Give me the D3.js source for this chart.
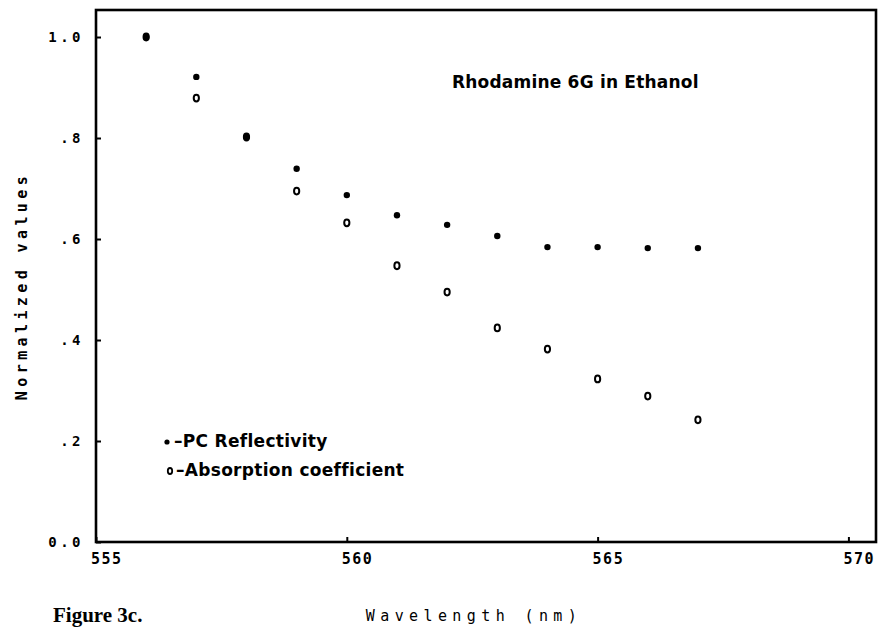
<!DOCTYPE html>
<html>
<head>
<meta charset="utf-8">
<script src="https://cdn.jsdelivr.net/npm/d3@7"></script>
<style>
body { margin: 0; background: #fff; }
svg { display: block; }
</style>
</head>
<body>
<svg width="878" height="632"></svg>
<script>
var svg = d3.select("svg");

// wavelengths (nm)
var wavelengths = [556, 557, 558, 559, 560, 561, 562, 563, 564, 565, 566, 567];
// PC reflectivity (filled dots)
var reflectivity = [1.0, 0.921, 0.802, 0.739, 0.687, 0.647, 0.628, 0.606, 0.584, 0.584, 0.582, 0.582];
// absorption coefficient (open circles)
var absorption = [1.0, 0.879, 0.802, 0.695, 0.632, 0.547, 0.495, 0.424, 0.382, 0.323, 0.289, 0.242];

var xTicks = [555, 560, 565, 570];
var yTicks = [0, 0.2, 0.4, 0.6, 0.8, 1.0];
var yTickLabels = ["0.0", ".2", ".4", ".6", ".8", "1.0"];

var x = d3.scaleLinear().domain([555, 570.55]).range([96, 876]);
var y = d3.scaleLinear().domain([0, 1.0535]).range([542, 10]);

var mono = "'DejaVu Sans Mono', 'Liberation Mono', monospace";
var sans = "'DejaVu Sans', 'Noto Sans', sans-serif";

// frame
svg.append("rect")
	.attr("x", x(555))
	.attr("y", y(1.0535))
	.attr("width", x(570.55) - x(555))
	.attr("height", y(0) - y(1.0535))
	.style("fill", "none")
	.style("stroke", "#000")
	.style("stroke-width", 2.6);

// y axis ticks (inward)
var yAxis = d3.axisRight(y).tickValues(yTicks).tickSize(5).tickFormat("");
svg.append("g")
	.attr("transform", "translate(" + x(555) + ",0)")
	.call(yAxis)
	.call(function(g){ g.select(".domain").remove(); })
	.selectAll("line").style("stroke-width", 2);

svg.append("g").selectAll("text")
	.data(yTicks)
	.enter().append("text")
	.attr("x", 84)
	.attr("y", function(d){ return y(d) + 5; })
	.attr("text-anchor", "end")
	.style("font-family", mono)
	.style("font-weight", "bold")
	.style("font-size", "14px")
	.style("letter-spacing", "3.5px")
	.text(function(d, i){ return yTickLabels[i]; });

// x axis ticks (inward)
var xAxis = d3.axisTop(x).tickValues(xTicks).tickSize(5).tickFormat("");
svg.append("g")
	.attr("transform", "translate(0," + y(0) + ")")
	.call(xAxis)
	.call(function(g){ g.select(".domain").remove(); })
	.selectAll("line").style("stroke-width", 2);

svg.append("g").selectAll("text")
	.data(xTicks)
	.enter().append("text")
	.attr("x", function(d){ return x(d) - 5; })
	.attr("y", 564)
	.style("font-family", mono)
	.style("font-weight", "bold")
	.style("font-size", "15px")
	.style("letter-spacing", "1.5px")
	.text(function(d){ return d; });

// axis titles
svg.append("text")
	.attr("transform", "translate(27,286) rotate(-90)")
	.attr("text-anchor", "middle")
	.style("font-family", mono)
	.style("font-weight", "bold")
	.style("font-size", "15px")
	.style("letter-spacing", "4.4px")
	.text("Normalized values");

svg.append("text")
	.attr("x", 474)
	.attr("y", 621)
	.attr("text-anchor", "middle")
	.style("font-family", mono)
	.style("font-size", "15px")
	.style("letter-spacing", "5.4px")
	.text("Wavelength (nm)");

svg.append("text")
	.attr("x", 53)
	.attr("y", 622)
	.style("font-family", "'Liberation Serif', 'DejaVu Serif', serif")
	.style("font-weight", "bold")
	.style("font-size", "21px")
	.text("Figure 3c.");

// title inside plot
svg.append("text")
	.attr("x", 452)
	.attr("y", 88)
	.style("font-family", sans)
	.style("font-size", "17px")
	.style("font-weight", "bold")
	.style("letter-spacing", "0.2px")
	.text("Rhodamine 6G in Ethanol");

// data: open circles first, filled dots on top
svg.append("g").selectAll("ellipse")
	.data(wavelengths)
	.enter().append("ellipse")
	.attr("cx", function(d){ return x(d); })
	.attr("cy", function(d, i){ return y(absorption[i]); })
	.attr("rx", 2.6)
	.attr("ry", 3.4)
	.style("fill", "#fff")
	.style("stroke", "#000")
	.style("stroke-width", 2);

svg.append("g").selectAll("circle")
	.data(wavelengths)
	.enter().append("circle")
	.attr("cx", function(d){ return x(d); })
	.attr("cy", function(d, i){ return y(reflectivity[i]); })
	.attr("r", 3.2)
	.style("fill", "#000");

// legend
var legend = svg.append("g");
legend.append("circle")
	.attr("cx", 167).attr("cy", 442).attr("r", 2.6)
	.style("fill", "#000");
legend.append("text")
	.attr("x", 174).attr("y", 447)
	.style("font-family", sans)
	.style("font-size", "17px")
	.style("font-weight", "bold")
	.style("letter-spacing", "0.3px")
	.text("\u2013PC Reflectivity");
legend.append("ellipse")
	.attr("cx", 170).attr("cy", 471).attr("rx", 2.2).attr("ry", 3)
	.style("fill", "#fff")
	.style("stroke", "#000")
	.style("stroke-width", 1.8);
legend.append("text")
	.attr("x", 176).attr("y", 476)
	.style("font-family", sans)
	.style("font-size", "17px")
	.style("font-weight", "bold")
	.style("letter-spacing", "0.3px")
	.text("\u2013Absorption coefficient");
</script>
</body>
</html>
